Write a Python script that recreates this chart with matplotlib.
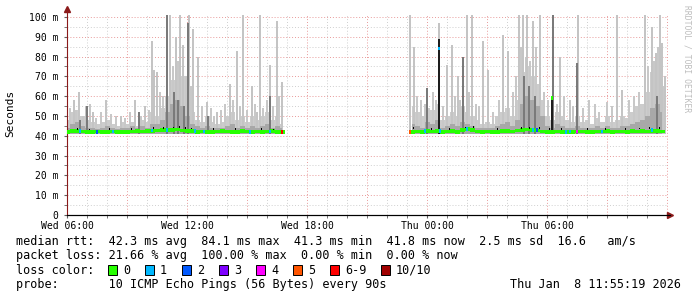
import matplotlib
matplotlib.use("Agg")
import matplotlib.pyplot as plt
import numpy as np
from matplotlib.patches import Rectangle

# time in hours after Wed 06:00, smoke binned every 15 min
seg1_t = np.arange(0.0, 10.76, 0.25)
seg1_light = [48, 52, 53, 50, 48, 47, 46, 47, 48, 46, 45, 47, 46, 47, 45, 48, 47, 52, 50, 54,
              60, 68, 72, 70, 62, 52, 48, 47, 50, 47, 46, 47, 50, 52, 48, 50, 47, 50, 48, 50,
              52, 48, 50, 46]
seg1_mid = [44, 46, 47, 45, 44, 44, 43.5, 44, 45, 44, 43.5, 44, 44, 45, 44, 45, 44, 46, 46, 48,
            52, 56, 58, 55, 50, 46, 45, 44, 45, 44, 44, 44, 45, 46, 44, 45, 44, 45, 44, 45,
            46, 44, 45, 44]
seg1_median = [42.0, 42.3, 42.5, 42.2, 41.9, 42.0, 42.1, 41.8, 42.0, 42.2, 41.9, 42.0, 41.8, 42.1,
               42.4, 42.2, 42.3, 42.5, 42.6, 42.8, 43.0, 42.9, 43.2, 42.7, 42.5, 42.3, 42.0, 42.1,
               41.9, 42.0, 42.2, 42.4, 42.1, 42.0, 41.9, 42.3, 42.1, 42.0, 42.2, 41.9, 42.1, 42.3,
               42.0, 41.8]

seg2_t = np.arange(17.25, 29.76, 0.25)
seg2_light = [55, 52, 50, 54, 53, 56, 48, 50, 52, 50, 55, 52, 50, 48, 46, 47, 46, 50, 52, 54,
              50, 58, 72, 75, 70, 66, 58, 50, 48, 52, 50, 48, 47, 50, 47, 48, 46, 49, 47, 50,
              47, 48, 50, 49, 52, 55, 56, 62, 72, 80, 70]
seg2_mid = [46, 45, 44, 47, 46, 48, 44, 45, 46, 45, 47, 46, 45, 44, 44, 44, 44, 45, 46, 47,
            45, 48, 56, 60, 58, 55, 50, 45, 44, 46, 45, 44, 44, 45, 44, 44, 44, 45, 44, 45,
            44, 44, 45, 45, 46, 47, 48, 50, 54, 56, 52]
seg2_median = [42.0, 42.2, 41.9, 42.3, 42.1, 42.4, 42.0, 42.2, 42.3, 42.0, 43.0, 43.4, 42.8, 42.2,
               42.0, 42.1, 41.9, 42.0, 42.3, 42.5, 42.2, 42.6, 42.9, 43.1, 42.8, 42.6, 42.2, 42.0,
               41.9, 42.1, 42.0, 41.8, 42.0, 42.2, 42.1, 41.9, 42.0, 42.2, 42.1, 42.3, 42.0, 42.1,
               42.2, 42.0, 42.3, 42.2, 42.4, 42.1, 42.3, 42.5, 42.2]

# single slow pings (light smoke)
spike_t = [0.35, 0.6, 0.95, 1.3, 1.95, 2.7, 3.4, 3.9, 4.25, 4.35, 4.5, 5.0, 5.15, 5.45, 5.65,
           5.8, 6.1, 6.3, 6.55, 7.0, 7.5, 8.15, 8.5, 8.8, 9.25, 9.5, 9.65, 10.15, 10.5, 10.75,
           17.15, 17.35, 18.6, 19.0, 19.25, 19.55, 20.0, 20.25, 20.8, 21.05, 21.8, 22.05, 22.6,
           22.8, 23.0, 23.3, 23.65, 24.65, 25.15, 25.5, 25.55, 27.5, 27.75, 28.9, 29.25, 29.45,
           29.65, 29.75, 29.9]
spike_top = [58, 62, 55, 52, 58, 50, 58, 55, 88, 73, 72, 101, 101, 90, 101,
             86, 101, 94, 80, 57, 52, 66, 83, 101, 65, 52, 101, 76, 98, 67,
             101, 85, 97, 76, 86, 70, 101, 101, 88, 73, 91, 83, 101,
             101, 101, 98, 101, 80, 58, 77, 101, 101, 63, 101, 95, 82,
             101, 87, 70]
# shorter light spikes that give the smoke its texture
short_t = [0.15, 0.45, 0.8, 1.15, 1.45, 1.7, 2.2, 2.45, 2.9, 3.15, 3.7, 4.1, 4.65, 4.8, 5.3,
           5.55, 5.95, 6.2, 6.75, 7.2, 7.35, 7.7, 7.9, 8.3, 8.65, 9.0, 9.4, 9.8, 10.0, 10.3, 10.6,
           17.5, 17.7, 17.9, 18.3, 18.45, 18.8, 19.4, 19.65, 20.1, 20.45, 20.6, 21.3, 21.6, 22.3,
           22.45, 22.7, 22.95, 23.15, 23.45, 23.85, 24.05, 24.5, 24.85, 25.3, 25.8, 26.1, 26.4,
           26.6, 27.0, 27.25, 28.1, 28.35, 28.6, 29.05, 29.35, 29.55, 29.85]
short_top = [54, 53, 50, 56, 49, 52, 51, 50, 49, 52, 50, 53, 62, 60, 75,
             78, 70, 65, 55, 54, 50, 53, 56, 58, 55, 53, 56, 54, 58, 55, 60,
             60, 58, 56, 62, 58, 55, 60, 58, 62, 56, 55, 52, 58, 62,
             70, 85, 80, 78, 85, 62, 58, 56, 60, 55, 54, 58, 56,
             52, 57, 55, 58, 60, 62, 75, 78, 85, 65]
# darker smoke spikes
dark_t = [0.65, 1.0, 3.6, 5.0, 5.35, 5.55, 5.85, 6.05, 7.05, 10.15,
          18.0, 19.8, 22.85, 23.1, 23.4, 24.3, 25.5, 29.5]
dark_top = [48, 55, 52, 101, 62, 58, 55, 97, 50, 60,
            64, 80, 70, 65, 60, 101, 77, 60]
black_t = [18.6, 24.25]
black_top = [89, 59]

# isolated median jumps
jump_t = [18.6, 24.25]
jump_v = [84.1, 59.0]
jump_loss = [1, 0]

# loss markers on the median
loss_t = [0.65, 1.5, 2.3, 4.25, 5.0, 6.4, 6.85, 9.15, 10.15, 10.75,
          17.15, 17.9, 18.65, 20.0, 23.3, 23.5, 24.95, 25.15, 25.5, 26.75, 29.25]
loss_lvl = [1, 2, 1, 1, 1, 1, 1, 1, 1, 6,
            5, 1, 1, 1, 1, 2, 1, 1, 4, 1, 1]
loss_v = [42.3, 42.0, 42.1, 42.6, 42.9, 42.3, 42.1, 42.0, 42.1, 41.8,
          42.0, 42.3, 42.4, 43.3, 42.8, 42.9, 42.0, 42.1, 42.2, 42.1, 42.8]

# black specks around the median
speck_t = [0.5, 1.1, 2.1, 3.2, 4.3, 4.8, 5.3, 5.6, 5.9, 6.2, 7.3, 8.4, 9.7, 10.3,
           17.3, 18.2, 19.1, 19.9, 20.3, 21.5, 22.7, 23.1, 23.6, 24.1, 24.7, 26.0,
           26.9, 27.9, 28.6, 29.1, 29.6]
speck_v = [43.5, 43.2, 43.4, 43.6, 43.8, 44.0, 44.2, 44.5, 43.9, 43.7, 43.3, 43.5, 43.4, 43.2,
           43.8, 43.5, 43.4, 44.2, 44.4, 43.3, 43.9, 44.1, 43.8, 43.6, 43.4, 43.3,
           43.5, 43.6, 43.7, 43.9, 43.8]

loss_names = ["0", "1", "2", "3", "4", "5", "6-9", "10/10"]
loss_colors = ["#26ff00", "#00b8ff", "#0059ff", "#7e00ff", "#ff00ff", "#ff5500", "#ff0000", "#a10000"]

xtick_pos = [0, 6, 12, 18, 24]
xtick_lab = ["Wed 06:00", "Wed 12:00", "Wed 18:00", "Thu 00:00", "Thu 06:00"]
ytick_pos = [0, 10, 20, 30, 40, 50, 60, 70, 80, 90, 100]
ytick_lab = ["0", "10 m", "20 m", "30 m", "40 m", "50 m", "60 m", "70 m", "80 m", "90 m", "100 m"]

stats = [
    "median rtt:  42.3 ms avg  84.1 ms max  41.3 ms min  41.8 ms now  2.5 ms sd  16.6   am/s",
    "packet loss: 21.66 % avg  100.00 % max  0.00 % min  0.00 % now",
]
probe_txt = "probe:       10 ICMP Echo Pings (56 Bytes) every 90s"
date_txt = "Thu Jan  8 11:55:19 2026"

W, H = 697, 297
mono = "DejaVu Sans Mono"
fig = plt.figure(figsize=(W / 100, H / 100), dpi=100)
fig.patch.set_facecolor("white")
ax = fig.add_axes([67 / W, (H - 215) / H, (668 - 67) / W, (215 - 15) / H])
ax.set_xlim(0, 30.05)
ax.set_ylim(0, 101)

# grid
dot = (0, (1, 2))
for h in range(0, 31):
    if h % 3:
        ax.axvline(h, color="#cfcfcf", lw=0.7, ls=dot, zorder=0)
for h in range(3, 31, 3):
    ax.axvline(h, color="#e89a9a", lw=0.7, ls=dot, zorder=0)
for v in range(5, 101, 10):
    ax.axhline(v, color="#cfcfcf", lw=0.7, ls=dot, zorder=0)
for v in range(10, 101, 10):
    ax.axhline(v, color="#e89a9a", lw=0.7, ls=dot, zorder=0)

base = 41.0
for t, light, mid in [(seg1_t, seg1_light, seg1_mid), (seg2_t, seg2_light, seg2_mid)]:
    ax.fill_between(t, base, light, step="mid", color="#cccccc", lw=0, zorder=1)
    ax.fill_between(t, base, mid, step="mid", color="#a8a8a8", lw=0, zorder=2)

ax.bar(spike_t, np.array(spike_top) - base, bottom=base, width=0.06, color="#c4c4c4", lw=0, zorder=1.5)
ax.bar(short_t, np.array(short_top) - base, bottom=base, width=0.07, color="#c8c8c8", lw=0, zorder=1.4)
ax.bar(dark_t, np.array(dark_top) - base, bottom=base, width=0.06, color="#7a7a7a", lw=0, zorder=3)
ax.bar(black_t, np.array(black_top) - base, bottom=base, width=0.1, color="#1e1e1e", lw=0, zorder=3.5)

for t, med in [(seg1_t, seg1_median), (seg2_t, seg2_median)]:
    med = np.array(med)
    ax.bar(t, 1.8, bottom=med - 0.9, width=0.25, color=loss_colors[0], lw=0, zorder=4)

ax.bar(speck_t, 0.9, bottom=np.array(speck_v) - 0.45, width=0.05, color="black", lw=0, zorder=4.5)
ax.bar(loss_t, 1.8, bottom=np.array(loss_v) - 0.9, width=0.08,
       color=[loss_colors[l] for l in loss_lvl], lw=0, zorder=5)
ax.bar(jump_t, 1.8, bottom=np.array(jump_v) - 0.9, width=0.08,
       color=[loss_colors[l] for l in jump_loss], lw=0, zorder=5)

# axes
for s in ["top", "right"]:
    ax.spines[s].set_visible(False)
ax.spines["left"].set_color("#8b1a1a")
ax.spines["bottom"].set_color("black")
ax.spines["left"].set_linewidth(0.8)
ax.spines["bottom"].set_linewidth(0.8)
ax.spines["left"].set_bounds(0, 104)
ax.plot([0], [1.03], marker="^", color="#8b1a1a", ms=4, transform=ax.transAxes, clip_on=False)
ax.plot([1.004], [0], marker=">", color="#8b1a1a", ms=4, transform=ax.transAxes, clip_on=False)
ax.plot([0, 1.004], [0, 0], color="black", lw=0.8, transform=ax.transAxes, clip_on=False)

ax.set_xticks(xtick_pos)
ax.set_xticklabels(xtick_lab, family=mono, fontsize=7)
ax.set_xticks(range(0, 31), minor=True)
ax.set_yticks(ytick_pos)
ax.set_yticklabels(ytick_lab, family=mono, fontsize=7)
ax.set_yticks(range(5, 101, 10), minor=True)
ax.tick_params(axis="x", which="both", length=2, pad=2, color="#606060")
ax.tick_params(axis="y", which="both", length=2, pad=4, color="#606060")

fig.text(10 / W, 1 - 113 / H, "Seconds", rotation=90, family=mono, fontsize=8, ha="center", va="center")
fig.text(687 / W, 1 - 5 / H, "RRDTOOL / TOBI OETIKER", rotation=270, family=mono, fontsize=5.8,
         color="#bdbdbd", ha="center", va="top")

fs = 8.5
fig.text(16 / W, 1 - 241 / H, stats[0], family=mono, fontsize=fs, va="center")
fig.text(16 / W, 1 - 255.5 / H, stats[1], family=mono, fontsize=fs, va="center")
fig.text(16 / W, 1 - 270 / H, "loss color:", family=mono, fontsize=fs, va="center")
box_x = [108, 145, 182, 219, 256, 293, 330, 381]
for bx, name, col in zip(box_x, loss_names, loss_colors):
    fig.add_artist(Rectangle((bx / W, 1 - 275 / H), 9 / W, 10 / H, facecolor=col,
                             edgecolor="black", lw=0.7, transform=fig.transFigure))
    fig.text((bx + 15) / W, 1 - 270 / H, name, family=mono, fontsize=fs, va="center")
fig.text(16 / W, 1 - 284.5 / H, probe_txt, family=mono, fontsize=fs, va="center")
fig.text(681 / W, 1 - 284.5 / H, date_txt, family=mono, fontsize=fs, va="center", ha="right")

fig.savefig("out.png", dpi=100)
